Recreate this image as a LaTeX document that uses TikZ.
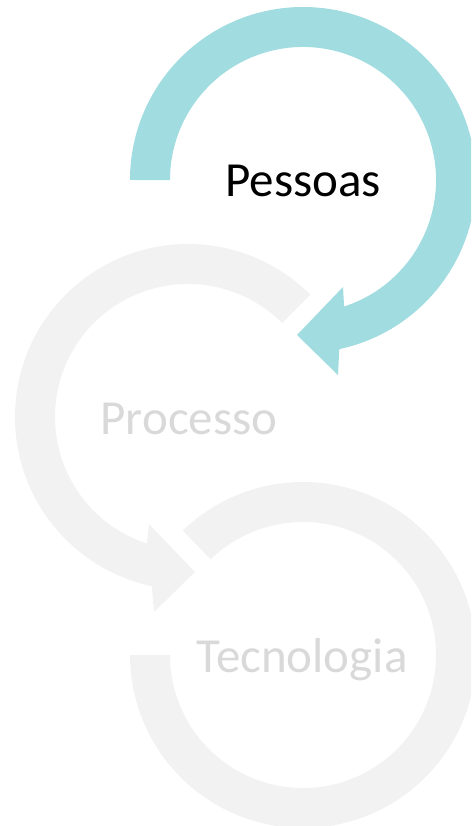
\documentclass[tikz,border=0pt]{standalone}
\usepackage{fontspec}
\setmainfont{Carlito}
\definecolor{tealband}{RGB}{161,220,224}
\definecolor{grayband}{RGB}{242,242,242}
\definecolor{graytext}{RGB}{217,217,217}
\tikzset{
  lbl/.style={anchor=base, font=\fontsize{49}{55}\selectfont, inner sep=0pt},
}
\begin{document}
\begin{tikzpicture}[x=1pt,y=1pt]
\useasboundingbox (0,0) rectangle (471,-826);
\clip (0,0) rectangle (471,-826);
% circle 3 (Tecnologia), no head
\fill[grayband] (303,-655) ++(134:173) arc[start angle=134, end angle=-180, radius=173]
  -- (170,-655) arc[start angle=-180, end angle=134, radius=133] -- cycle;
% circle 2 (Processo)
\fill[grayband] (188,-417) ++(45:173) arc[start angle=45, end angle=257.9, radius=173]
  -- (154,-612) -- (195,-572) -- (149,-524) -- (146.9,-543.5)
  arc[start angle=252, end angle=45, radius=133] -- cycle;
% circle 1 (Pessoas)
\fill[tealband] (130,-180) arc[start angle=180, end angle=-77.9, radius=173]
  -- (338,-375) -- (297,-335) -- (343,-287) -- (344.1,-306.5)
  arc[start angle=-72, end angle=180, radius=133] -- cycle;
\node[lbl, text=black] (pessoas) at (303,-197) {Pessoas};
\node[lbl, text=graytext] (processo) at (189,-434) {Processo};
\node[lbl, text=graytext] (tecnologia) at (302,-672) {Tecnologia};
\end{tikzpicture}
\end{document}
